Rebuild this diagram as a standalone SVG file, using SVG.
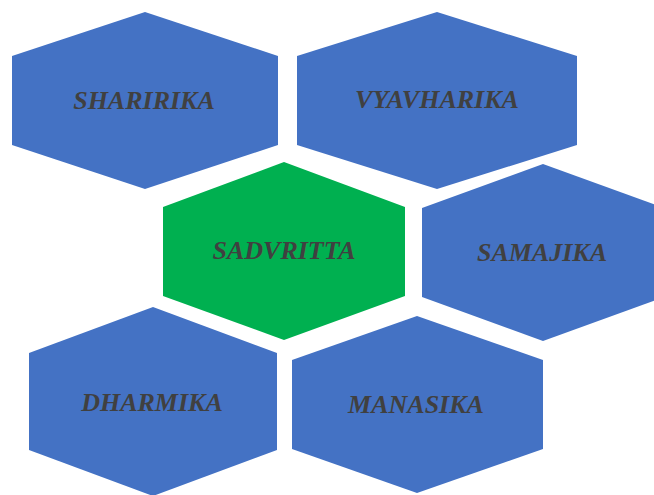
<svg xmlns="http://www.w3.org/2000/svg" width="654" height="495" viewBox="0 0 654 495">
<style>
.hb{fill:#4472C4}
.hg{fill:#00B050}
.t{font-family:"Liberation Serif","Times New Roman",serif;font-weight:bold;font-style:italic;font-size:26px;fill:#404040;text-anchor:middle}
</style>
<rect width="654" height="495" fill="#ffffff"/>
<g id="sharirika"><polygon class="hb" points="145,12 278,56 278,145 145,189 12,145 12,56"/><text class="t" x="144" y="109">SHARIRIKA</text></g>
<g id="vyavharika"><polygon class="hb" points="437,12 577,56 577,145 437,189 297,145 297,56"/><text class="t" x="437" y="108">VYAVHARIKA</text></g>
<g id="sadvritta"><polygon class="hg" points="284,162 405,207 405,296 284,340 163,296 163,207"/><text class="t" x="284" y="259">SADVRITTA</text></g>
<g id="samajika"><polygon class="hb" points="543,164 664,208 664,297 543,341 422,297 422,208"/><text class="t" x="542" y="261">SAMAJIKA</text></g>
<g id="dharmika"><polygon class="hb" points="153,307 277,353 277,450 153,496 29,450 29,353"/><text class="t" x="152" y="411">DHARMIKA</text></g>
<g id="manasika"><polygon class="hb" points="417,316 543,360 543,449 417,493 292,449 292,360"/><text class="t" x="416" y="413">MANASIKA</text></g>
<g id="connectors"></g>
</svg>
